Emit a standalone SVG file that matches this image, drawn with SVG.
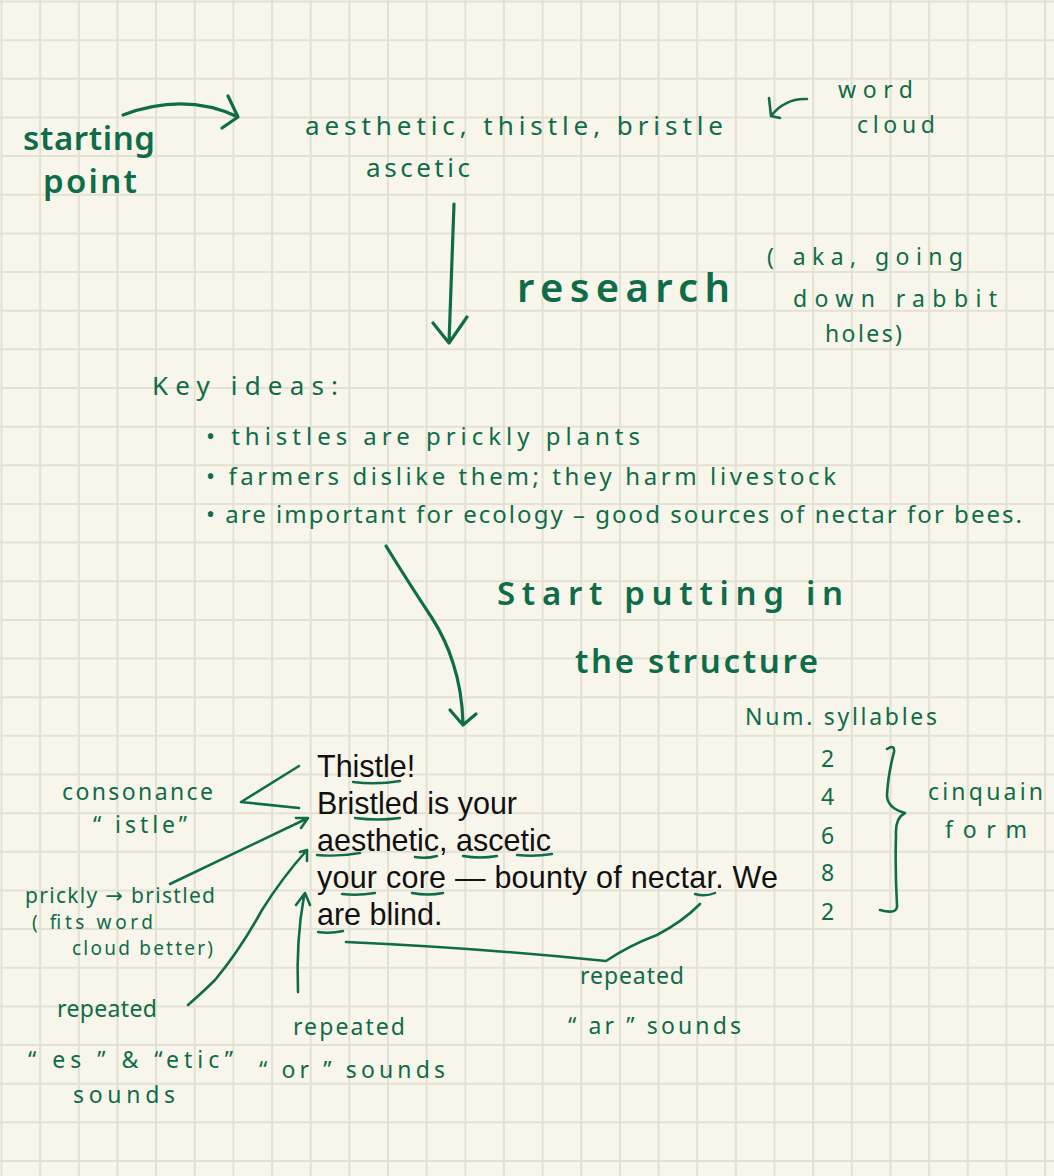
<svg xmlns="http://www.w3.org/2000/svg" width="1054" height="1176" viewBox="0 0 1054 1176">
<style>
.hw{fill:#0f6c48;font-family:"Noto Sans","DejaVu Sans",sans-serif;font-size:23px}
.big{font-size:33px;font-weight:600}
.mid{font-size:26px}
.sm{font-size:19px}
.ln{fill:none;stroke:#0f6c48;stroke-width:3.2;stroke-linecap:round;stroke-linejoin:round}
.thin{stroke-width:2.6}
.ul{fill:none;stroke:#0f6c48;stroke-width:2.4;stroke-linecap:round}
.poem{fill:#111;font-family:"Liberation Sans",Arial,sans-serif;font-size:30.5px}
.grid{stroke:#e3e1d4;stroke-width:2;fill:none}
</style>
<rect width="1054" height="1176" fill="#f8f6ea"/>
<path class="grid" d="M1.5 0V1176M40.15 0V1176M78.8 0V1176M117.45 0V1176M156.1 0V1176M194.75 0V1176M233.4 0V1176M272.05 0V1176M310.7 0V1176M349.35 0V1176M388 0V1176M426.65 0V1176M465.3 0V1176M503.95 0V1176M542.6 0V1176M581.25 0V1176M619.9 0V1176M658.55 0V1176M697.2 0V1176M735.85 0V1176M774.5 0V1176M813.15 0V1176M851.8 0V1176M890.45 0V1176M929.1 0V1176M967.75 0V1176M1006.4 0V1176M1045.05 0V1176
M0 1.5H1054M0 40.15H1054M0 78.8H1054M0 117.45H1054M0 156.1H1054M0 194.75H1054M0 233.4H1054M0 272.05H1054M0 310.7H1054M0 349.35H1054M0 388H1054M0 426.65H1054M0 465.3H1054M0 503.95H1054M0 542.6H1054M0 581.25H1054M0 619.9H1054M0 658.55H1054M0 697.2H1054M0 735.85H1054M0 774.5H1054M0 813.15H1054M0 851.8H1054M0 890.45H1054M0 929.1H1054M0 967.75H1054M0 1006.4H1054M0 1045.05H1054M0 1083.7H1054M0 1122.35H1054M0 1161H1054"/>

<g id="starting-point">
<text class="hw big" x="23" y="150" textLength="132">starting</text>
<text class="hw big" x="43" y="193" textLength="94">point</text>
</g>
<g id="word-list">
<text class="hw mid" x="305" y="135" textLength="418">aesthetic, thistle, bristle</text>
<text class="hw mid" x="366" y="177" textLength="104">ascetic</text>
</g>
<g id="word-cloud-note">
<text class="hw" x="838" y="98" textLength="75">word</text>
<text class="hw" x="857" y="133" textLength="78">cloud</text>
</g>
<g id="research-label">
<text class="hw" x="517" y="302" style="font-size:40px;font-weight:600" textLength="213">research</text>
</g>
<g id="aka-note">
<text class="hw" x="767" y="265" textLength="196">( aka, going</text>
<text class="hw" x="793" y="307" textLength="204">down  rabbit</text>
<text class="hw" x="825" y="342" textLength="77">holes)</text>
</g>
<g id="key-ideas">
<text class="hw mid" x="152" y="395" textLength="186">Key  ideas:</text>
<text class="hw" x="206" y="445" style="font-size:24px" textLength="434">• thistles  are  prickly  plants</text>
<text class="hw" x="206" y="485" style="font-size:24px" textLength="630">• farmers  dislike  them;  they  harm  livestock</text>
<text class="hw" x="206" y="523" style="font-size:24px" textLength="816">• are  important  for  ecology – good  sources  of  nectar for  bees.</text>
</g>
<g id="structure-label">
<text class="hw big" x="497" y="605" textLength="346">Start  putting  in</text>
<text class="hw big" x="575" y="673" textLength="243">the  structure</text>
</g>
<g id="syllables">
<text class="hw" x="745" y="725" textLength="192">Num.  syllables</text>
<text class="hw" x="821" y="767">2</text>
<text class="hw" x="821" y="805">4</text>
<text class="hw" x="821" y="844">6</text>
<text class="hw" x="821" y="881">8</text>
<text class="hw" x="821" y="920">2</text>
<path class="ln thin" d="M887 749Q895 744 894 752Q888 775 887 795Q887 808 905 813Q895 818 896 835Q895 870 897 905Q898 915 880 910"/>
<text class="hw" x="928" y="800" textLength="115">cinquain</text>
<text class="hw" x="945" y="838" textLength="82">form</text>
</g>
<g id="poem">
<text class="poem" x="317" y="777">Thistle!</text>
<text class="poem" x="317" y="814">Bristled is your</text>
<text class="poem" x="317" y="851">aesthetic, ascetic</text>
<text class="poem" x="317" y="888" textLength="461">your core — bounty of nectar. We</text>
<text class="poem" x="317" y="925">are blind.</text>
<path class="ul" d="M353 782Q377 785 400 781M355 818Q378 821 400 818M317 855Q338 857 360 853M415 857Q426 859 437 856M463 856Q480 859 497 856M517 855Q535 857 552 854M342 894Q358 896 375 893M412 893Q428 896 443 893M695 894Q705 897 715 893M318 932Q330 934 343 931"/>
</g>
<g id="consonance-note">
<text class="hw" x="62" y="800" textLength="151">consonance</text>
<text class="hw" x="93" y="833" textLength="94">“ istle”</text>
</g>
<g id="prickly-note">
<text class="hw" x="25" y="903" style="font-size:21px" textLength="190">prickly → bristled</text>
<text class="hw sm" x="32" y="929" textLength="121">( fits  word</text>
<text class="hw sm" x="72" y="955" textLength="141">cloud  better)</text>
</g>
<g id="es-etic-note">
<text class="hw" x="57" y="1017" textLength="100">repeated</text>
<text class="hw" x="28" y="1068" textLength="205">“ es ” &amp; “etic”</text>
<text class="hw" x="73" y="1103" textLength="102">sounds</text>
</g>
<g id="or-note">
<text class="hw" x="293" y="1035" textLength="112">repeated</text>
<text class="hw" x="259" y="1078" textLength="186">“ or ” sounds</text>
</g>
<g id="ar-note">
<text class="hw" x="580" y="984" textLength="104">repeated</text>
<text class="hw" x="568" y="1034" textLength="173">“ ar ” sounds</text>
</g>

<g id="connectors">
<path class="ln" d="M123 115Q185 92 238 117M228 96L238 117L222 128"/>
<path class="ln thin" d="M807 99Q785 98 771 116M769 98L771 116L780 118"/>
<path class="ln" d="M454 204L449 343M433 323L449 343L467 317"/>
<path class="ln" d="M386 546Q412 588 432 618Q446 640 453 663Q462 690 463 723M450 710L463 725L476 714"/>
<path class="ln thin" d="M299 766L241 802L299 808"/>
<path class="ln thin" d="M170 884L308 818M296 818L308 818L301 828"/>
<path class="ln thin" d="M188 1005Q205 990 215 980Q240 950 262 910Q282 878 307 850M300 852L307 850L307 861"/>
<path class="ln thin" d="M298 992Q296 940 304 896M296 905L305 893L310 905"/>
<path class="ln thin" d="M346 942Q480 948 606 961Q630 945 657 935Q682 922 700 904"/>
</g>
</svg>
